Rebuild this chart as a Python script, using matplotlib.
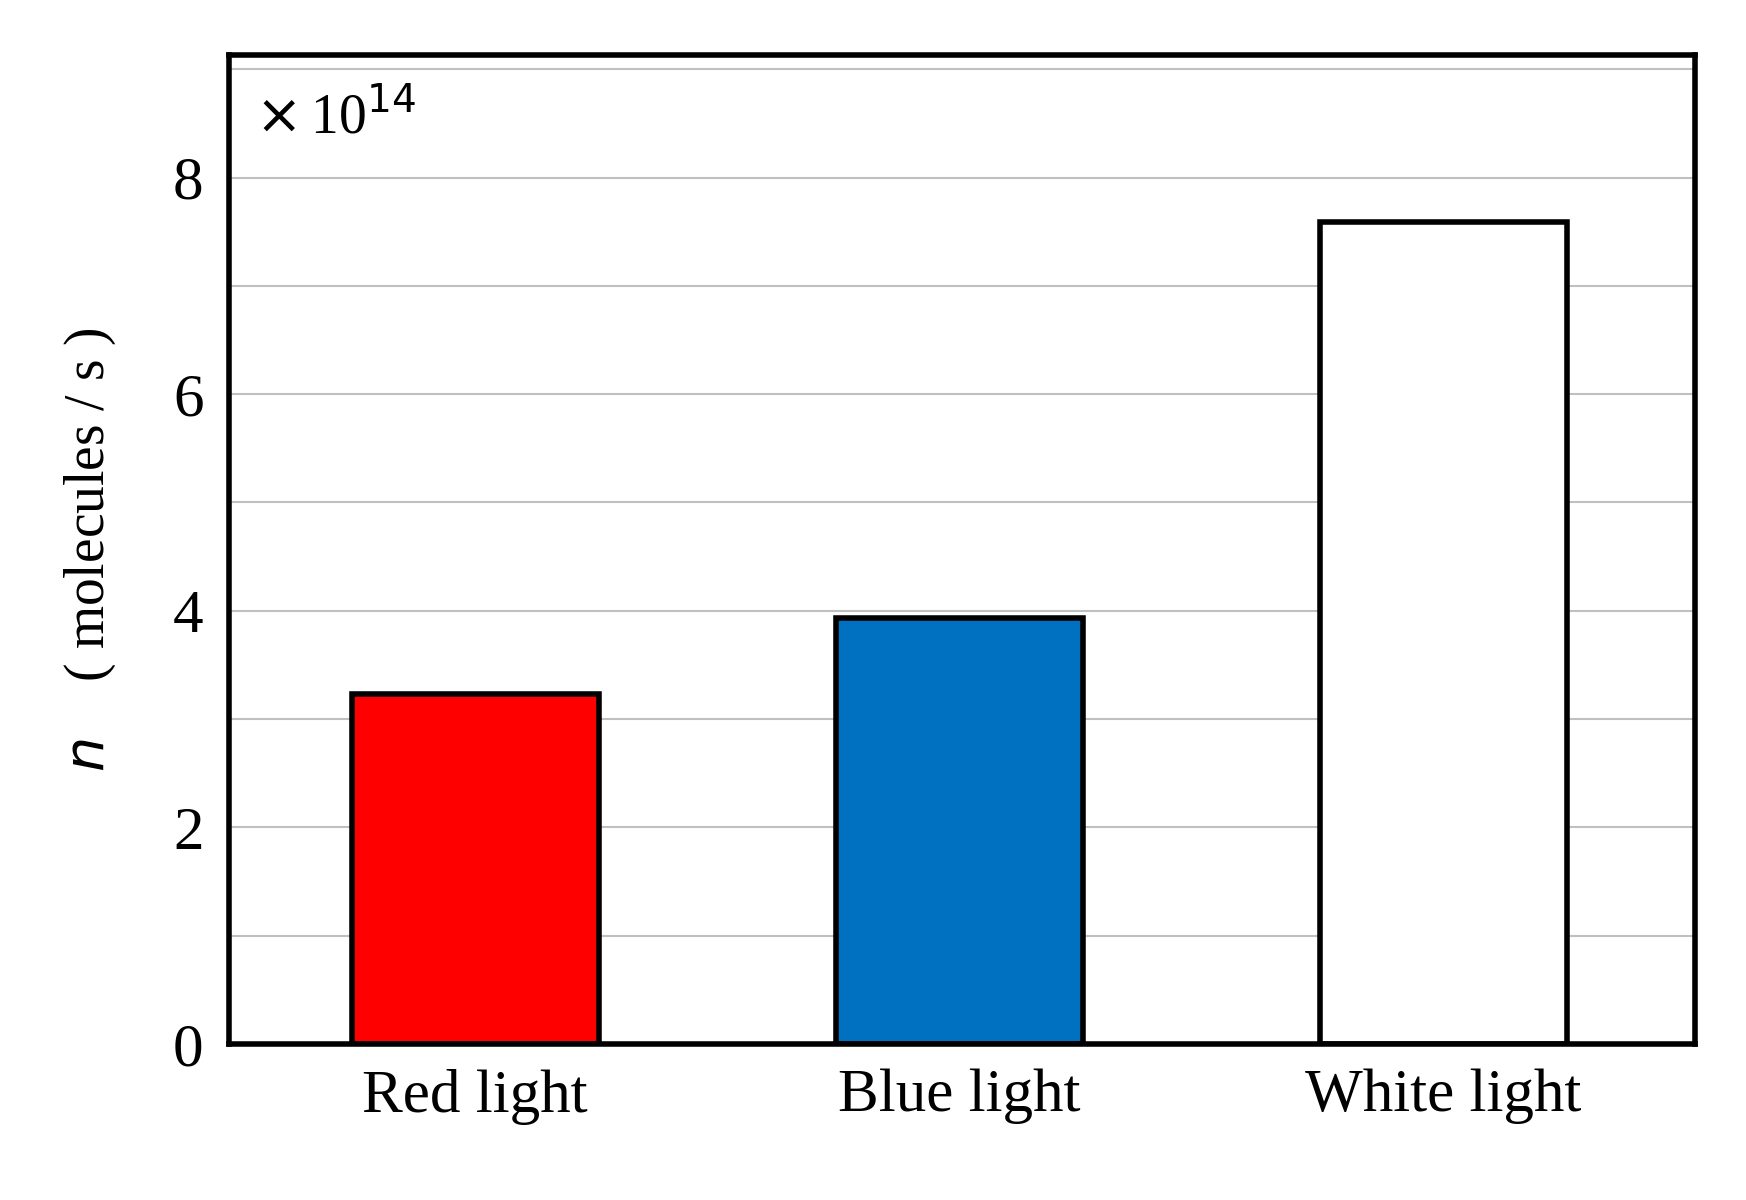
import matplotlib.pyplot as plt

categories = ['Red light', 'Blue light', 'White light']
values = [3.23, 3.93, 7.59]
colors = ['#ff0000', '#0070c0', '#ffffff']
yticks = [0, 2, 4, 6, 8]

plt.rcParams['font.family'] = ['Liberation Serif', 'DejaVu Serif']

fig = plt.figure(figsize=(17.46, 12), dpi=100)
ax = fig.add_axes([0.131, 0.130, 0.840, 0.824])

for y in range(1, 10):
    ax.axhline(y, color='#c0c0c0', lw=1.5, zorder=0)
ax.bar(range(len(categories)), values, width=0.51, color=colors,
       edgecolor='black', linewidth=4, zorder=2)

ax.set_xlim(-0.509, 2.52)
ax.set_ylim(0, 9.13)
ax.set_yticks(yticks)
ax.set_xticks(range(len(categories)))
ax.set_xticklabels(categories)
ax.tick_params(length=0, labelsize=44, pad=18)
for s in ax.spines.values():
    s.set_linewidth(4)

ax.text(0.018, 0.965, r'$\times\,$10$^{14}$', transform=ax.transAxes,
        fontsize=40, va='top', ha='left')
ax.set_ylabel(r'$n$    ( molecules / s )', fontsize=40, labelpad=40)

fig.savefig('out.png', dpi=100)
